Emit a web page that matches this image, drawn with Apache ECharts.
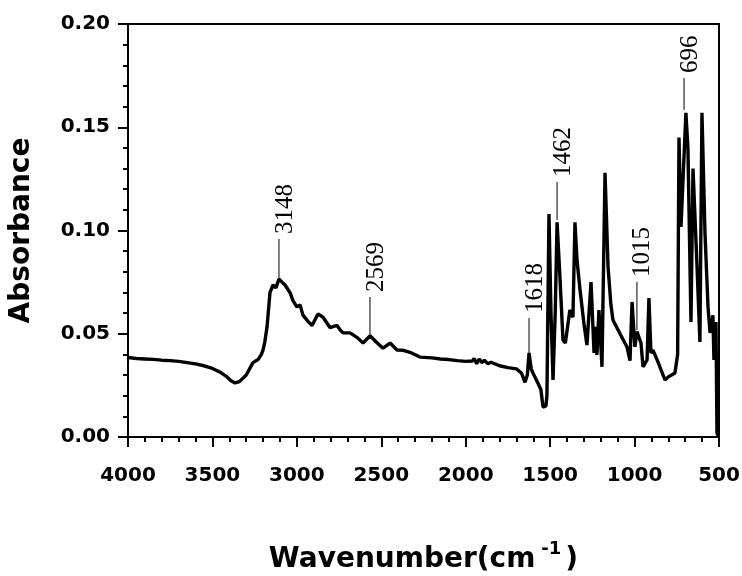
<!DOCTYPE html>
<html>
<head>
<meta charset="utf-8">
<script src="https://cdn.jsdelivr.net/npm/echarts@6/dist/echarts.min.js"></script>
<style>html,body{margin:0;padding:0;background:#fff;}#c{width:742px;height:576px;}</style>
</head>
<body>
<div id="c"></div>
<script>
// Spectrum data (wavenumber in cm-1, absorbance)
const wavenumbers = [
  4000, 3950, 3900, 3850, 3800, 3750, 3700, 3650, 3600, 3550, 3500, 3450, 3420, 3390, 3366, 3340, 3300, 3280, 3260, 3230,
  3210, 3201, 3190, 3177, 3159, 3141, 3124, 3106, 3088, 3070, 3041, 3023, 3000, 2981, 2964, 2934, 2910, 2875, 2845, 2804,
  2762, 2745, 2727, 2685, 2640, 2608, 2567, 2530, 2490, 2448, 2407, 2370, 2330, 2271, 2200, 2150, 2100, 2050, 2000, 1960,
  1950, 1935, 1920, 1905, 1890, 1870, 1850, 1800, 1750, 1700, 1670, 1649, 1635, 1625, 1612, 1602, 1572, 1555, 1542, 1525,
  1519, 1507, 1495, 1483, 1470, 1459, 1442, 1424, 1410, 1400, 1383, 1365, 1353, 1341, 1323, 1300, 1282, 1258, 1240, 1229,
  1223, 1211, 1193, 1175, 1157, 1140, 1128, 1086, 1045, 1027, 1015, 998, 986, 962, 950, 926, 915, 903, 891, 861,
  820, 802, 761, 745, 737, 725, 696, 684, 666, 654, 630, 613, 601, 583, 565, 553, 536, 530, 518, 512, 503
];
const absorbance = [
  0.0385, 0.0380, 0.0378, 0.0376, 0.0372, 0.0370, 0.0366, 0.0360, 0.0354, 0.0345, 0.0332, 0.0312, 0.0295, 0.0272, 0.0262, 0.0268, 0.0300, 0.0330, 0.0360, 0.0375,
  0.0400, 0.0420, 0.0460, 0.0530, 0.0700, 0.0736, 0.0722, 0.0765, 0.0750, 0.0736, 0.0700, 0.0660, 0.0630, 0.0640, 0.0590, 0.0560, 0.0540, 0.0596, 0.0580, 0.0530,
  0.0540, 0.0520, 0.0504, 0.0504, 0.0480, 0.0455, 0.0490, 0.0460, 0.0430, 0.0455, 0.0421, 0.0420, 0.0410, 0.0387, 0.0383, 0.0378, 0.0375, 0.0370, 0.0366, 0.0368,
  0.0380, 0.0355, 0.0378, 0.0360, 0.0372, 0.0355, 0.0362, 0.0345, 0.0336, 0.0330, 0.0310, 0.0265, 0.0300, 0.0407, 0.0330, 0.0310, 0.0260, 0.0230, 0.0145, 0.0150,
  0.0200, 0.1080, 0.0600, 0.0276, 0.0600, 0.1040, 0.0775, 0.0470, 0.0455, 0.0460, 0.0615, 0.0580, 0.1040, 0.0857, 0.0712, 0.0550, 0.0445, 0.0750, 0.0407, 0.0533,
  0.0397, 0.0615, 0.0340, 0.1280, 0.0823, 0.0640, 0.0567, 0.0500, 0.0436, 0.0370, 0.0654, 0.0436, 0.0510, 0.0455, 0.0340, 0.0373, 0.0673, 0.0407, 0.0421, 0.0363,
  0.0276, 0.0290, 0.0310, 0.0400, 0.1450, 0.1017, 0.1570, 0.1400, 0.0557, 0.1300, 0.0823, 0.0460, 0.1570, 0.0988, 0.0630, 0.0504, 0.0590, 0.0373, 0.0557, 0.0020, 0.0000
];

// Peak annotations
const annoLabels = ['3148', '2569', '1618', '1462', '1015', '696'];
const annoX      = [3106, 2567, 1625, 1459, 986, 707];
const annoYStart = [0.0770, 0.0494, 0.0407, 0.1051, 0.0518, 0.1584];
const annoYEnd   = [0.0959, 0.0678, 0.0576, 0.1235, 0.0751, 0.1738];

// Axis settings
const xMin = 500, xMax = 4000, xStep = 500;
const yMin = 0, yMax = 0.20, yStep = 0.05;

const seriesData = wavenumbers.map((w, i) => [w, absorbance[i]]);
const heavy = 'DejaVu Sans';

const chart = echarts.init(document.getElementById('c'), null, {renderer: 'canvas'});
chart.setOption({
  animation: false,
  backgroundColor: '#fff',
  grid: {left: 128, right: 23, top: 24, bottom: 139, show: true, borderColor: '#000', borderWidth: 2,
    containLabel: false, outerBoundsMode: 'none'},
  xAxis: {
    type: 'value', min: xMin, max: xMax, interval: xStep, inverse: true,
    axisLine: {show: true, lineStyle: {color: '#000', width: 2}},
    axisTick: {show: true, length: 10, lineStyle: {color: '#000', width: 2}},
    minorTick: {show: true, splitNumber: 5, length: 5, lineStyle: {color: '#000', width: 2}},
    splitLine: {show: false},
    axisLabel: {color: '#000', fontFamily: heavy, fontWeight: 'bold', fontSize: 20, margin: 29,
      formatter: v => String(v)},
    name: '{a|Wavenumber(cm}{s|-1}{a|)}',
    nameLocation: 'middle', nameGap: 103,
    nameTextStyle: {
      rich: {
        a: {fontFamily: heavy, fontWeight: 'bold', fontSize: 28, color: '#000', verticalAlign: 'bottom'},
        s: {fontFamily: heavy, fontWeight: 'bold', fontSize: 18, color: '#000', verticalAlign: 'top', padding: [0, 4, 16, 6]}
      }
    }
  },
  yAxis: {
    type: 'value', min: yMin, max: yMax, interval: yStep,
    axisLine: {show: true, lineStyle: {color: '#000', width: 2}},
    axisTick: {show: true, length: 10, lineStyle: {color: '#000', width: 2}},
    minorTick: {show: true, splitNumber: 5, length: 5, lineStyle: {color: '#000', width: 2}},
    splitLine: {show: false},
    axisLabel: {color: '#000', fontFamily: heavy, fontWeight: 'bold', fontSize: 20, margin: 18,
      formatter: v => v.toFixed(2)},
    name: 'Absorbance', nameLocation: 'middle', nameGap: 92, nameRotate: 90,
    nameTextStyle: {fontFamily: heavy, fontWeight: 'bold', fontSize: 28, color: '#000'}
  },
  series: [{
    type: 'line', data: seriesData, showSymbol: false, symbol: 'none',
    lineStyle: {color: '#000', width: 3.4}, z: 3
  }]
});

// Annotations placed through the chart's own coordinate conversion
const elements = [];
annoLabels.forEach((t, i) => {
  const p1 = chart.convertToPixel({xAxisIndex: 0, yAxisIndex: 0}, [annoX[i], annoYStart[i]]);
  const p2 = chart.convertToPixel({xAxisIndex: 0, yAxisIndex: 0}, [annoX[i], annoYEnd[i]]);
  elements.push({type: 'line', shape: {x1: p1[0], y1: p1[1], x2: p2[0], y2: p2[1]},
    style: {stroke: '#000', lineWidth: 1}, z: 10});
  elements.push({type: 'text', x: p2[0] + 6, y: p2[1] - 5, rotation: Math.PI / 2,
    style: {text: t, fill: '#000', font: '25px "Liberation Serif"', align: 'left', verticalAlign: 'middle'}, z: 10});
});
chart.setOption({graphic: {elements: elements}});
</script>
</body>
</html>
